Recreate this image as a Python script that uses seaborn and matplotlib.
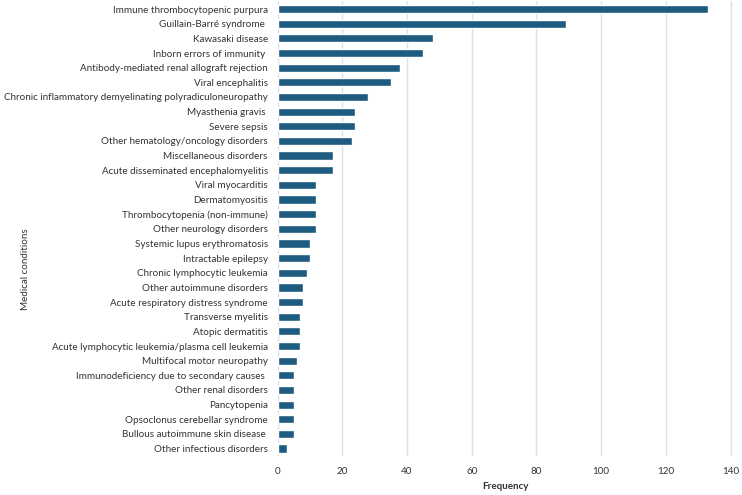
import pandas as pd
import matplotlib.pyplot as plt
import seaborn as sns

# medical conditions and their frequency
conditions = [
    "Immune thrombocytopenic purpura",
    "Guillain-Barré syndrome ",
    "Kawasaki disease",
    "Inborn errors of immunity ",
    "Antibody-mediated renal allograft rejection",
    "Viral encephalitis",
    "Chronic inflammatory demyelinating polyradiculoneuropathy",
    "Myasthenia gravis ",
    "Severe sepsis",
    "Other hematology/oncology disorders",
    "Miscellaneous disorders",
    "Acute disseminated encephalomyelitis",
    "Viral myocarditis",
    "Dermatomyositis",
    "Thrombocytopenia (non-immune)",
    "Other neurology disorders",
    "Systemic lupus erythromatosis",
    "Intractable epilepsy",
    "Chronic lymphocytic leukemia",
    "Other autoimmune disorders",
    "Acute respiratory distress syndrome",
    "Transverse myelitis",
    "Atopic dermatitis",
    "Acute lymphocytic leukemia/plasma cell leukemia",
    "Multifocal motor neuropathy",
    "Immunodeficiency due to secondary causes ",
    "Other renal disorders",
    "Pancytopenia",
    "Opsoclonus cerebellar syndrome",
    "Bullous autoimmune skin disease ",
    "Other infectious disorders",
]
frequency = [133, 89, 48, 45, 38, 35, 28, 24, 24, 23, 17, 17, 12, 12, 12, 12,
             10, 10, 9, 8, 8, 7, 7, 7, 6, 5, 5, 5, 5, 5, 3]
x_ticks = [0, 20, 40, 60, 80, 100, 120, 140]

df = pd.DataFrame({"condition": conditions, "frequency": frequency})

sns.set_style("white")
plt.rcParams['font.family'] = ['Lato', 'DejaVu Sans']

fig = plt.figure(figsize=(7.42, 4.95), dpi=100)
ax = fig.add_axes([0.374, 0.079, 0.615, 0.919])

sns.barplot(data=df, x="frequency", y="condition", color="#1d5c80",
            saturation=1, width=0.56, ax=ax, zorder=3)

ax.set_xlim(0, 141)
ax.set_xticks(x_ticks)
ax.set_ylim(len(conditions) - 0.5, -0.55)
ax.grid(axis="x", color="#d6e3ec", linewidth=1, zorder=0)
for s in ax.spines.values():
    s.set_visible(False)
ax.tick_params(axis="both", length=0, labelsize=7.1, colors="#333333", pad=7)
ax.tick_params(axis="x", pad=8)
ax.set_xlabel("Frequency", fontsize=7.1, fontweight="bold", color="#333333", labelpad=4)
ax.set_ylabel("Medical conditions", fontsize=7.1, color="#333333")
ax.yaxis.set_label_coords(-0.542, 0.41)

fig.savefig("out.png", dpi=100)
